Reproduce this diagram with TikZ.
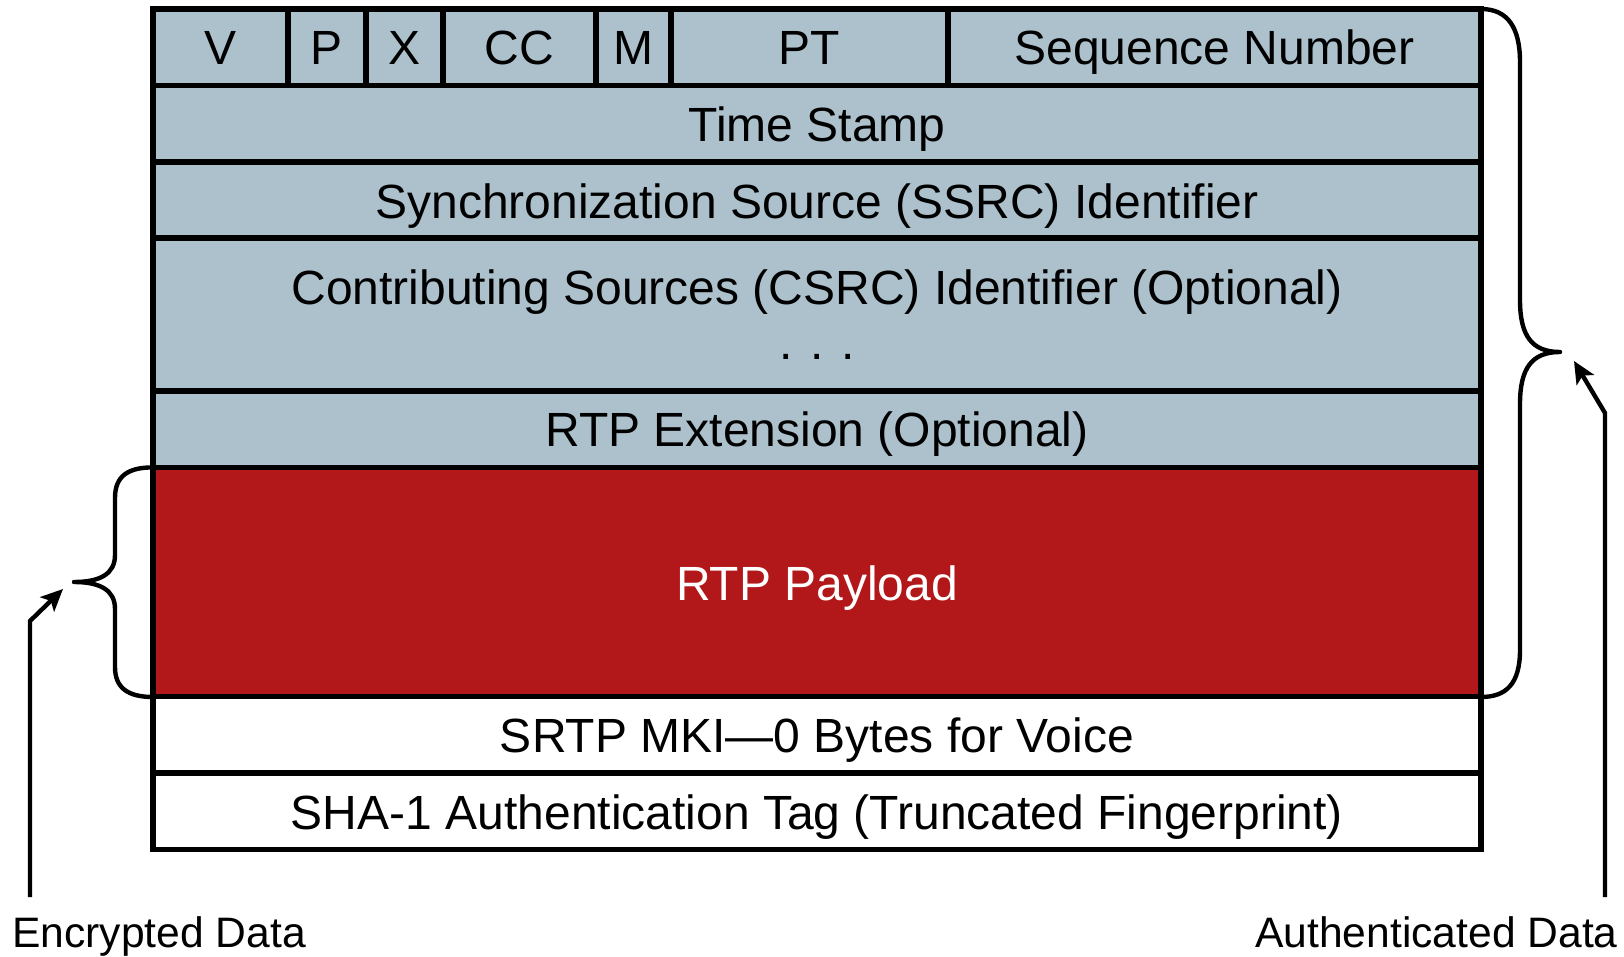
\documentclass[tikz,border=0pt]{standalone}
\usepackage{fontspec}
\setmainfont{Liberation Sans}
\usetikzlibrary{arrows.meta}
\definecolor{hdr}{RGB}{172,193,204}
\definecolor{pay}{RGB}{178,24,26}
\begin{document}
\begin{tikzpicture}[x=0.5pt,y=-0.5pt,
  cell/.style={draw=black,line width=2.8pt,fill=hdr},
  wcell/.style={draw=black,line width=2.8pt,fill=white},
  rcell/.style={draw=black,line width=2.8pt,fill=pay},
  txt/.style={anchor=base,inner sep=0pt,font=\fontsize{24}{28}\selectfont},
  lbl/.style={inner sep=0pt,font=\fontsize{21.3}{25}\selectfont},
  bracepath/.style={draw=black,line width=2.2pt,line cap=round,line join=round},
  arr/.style={draw=black,line width=2.2pt,line join=miter,-{Stealth[length=11pt,width=10pt,inset=2.5pt]}}]
\useasboundingbox (0,0) rectangle (1624,957);
% header row
\draw[cell] (153,9) rectangle (288,85.4);
\draw[cell] (288,9) rectangle (366,85.4);
\draw[cell] (366,9) rectangle (443,85.4);
\draw[cell] (443,9) rectangle (596,85.4);
\draw[cell] (596,9) rectangle (671,85.4);
\draw[cell] (671,9) rectangle (948,85.4);
\draw[cell] (948,9) rectangle (1481,85.4);
% rows
\draw[cell] (153,85.4) rectangle (1481,161.8);
\draw[cell] (153,161.8) rectangle (1481,238.2);
\draw[cell] (153,238.2) rectangle (1481,391);
\draw[cell] (153,391) rectangle (1481,467.4);
\draw[rcell] (153,467.4) rectangle (1481,696.6);
\draw[wcell] (153,696.6) rectangle (1481,773);
\draw[wcell] (153,773) rectangle (1481,849.4);
% texts
\node[txt] (v) at (220.5,64.5) {V};
\node[txt] (p) at (327,64.5) {P};
\node[txt] (x) at (404.5,64.5) {X};
\node[txt] (cc) at (519.5,64.5) {CC};
\node[txt] (m) at (633.5,64.5) {M};
\node[txt] (pt) at (809.5,64.5) {PT};
\node[txt] (seq) at (1214.5,64.5) {Sequence Number};
\node[txt] (ts) at (817,142) {Time Stamp};
\node[txt] (ssrc) at (817,218.5) {Synchronization Source (SSRC) Identifier};
\node[txt] (csrc) at (817,305) {Contributing Sources (CSRC) Identifier (Optional)};
\node[txt] (dots) at (817,360) {. . .};
\node[txt] (ext) at (817,446) {RTP Extension (Optional)};
\node[txt,text=white] (payload) at (817,600) {RTP Payload};
\node[txt] (mki) at (817,752) {SRTP MKI—0 Bytes for Voice};
\node[txt] (sha) at (817,829) {SHA-1 Authentication Tag (Truncated Fingerprint)};
% braces
\coordinate (rtip) at (1560,352);
\coordinate (ltip) at (74,582);
\draw[bracepath] (1481,9) .. controls (1508,9) and (1520,28) .. (1520,62)
  -- (1520,300) .. controls (1520,336) and (1532,352) .. (rtip)
  .. controls (1532,352) and (1520,368) .. (1520,404)
  -- (1520,650) .. controls (1520,684) and (1506,697) .. (1481,697);
\draw[bracepath] (153,467.4) .. controls (128,467.4) and (115,476) .. (115,498)
  -- (115,555) .. controls (115,574) and (100,582) .. (ltip)
  .. controls (100,582) and (115,590) .. (115,609)
  -- (115,667) .. controls (115,688) and (128,697) .. (153,697);
% labels
\node[lbl,anchor=base west] (enc) at (12,947) {Encrypted Data};
\node[lbl,anchor=base east] (auth) at (1618,947) {Authenticated Data};
\coordinate (lbot) at (30,897);
\coordinate (lbend) at (30,621);
\coordinate (lhead) at (63,589);
\coordinate (rbot) at (1605,897);
\coordinate (rbend) at (1605,413);
\coordinate (rhead) at (1574,361);
\draw[arr] (lbot) -- (lbend) -- (lhead);
\draw[arr] (rbot) -- (rbend) -- (rhead);
\end{tikzpicture}
\end{document}
